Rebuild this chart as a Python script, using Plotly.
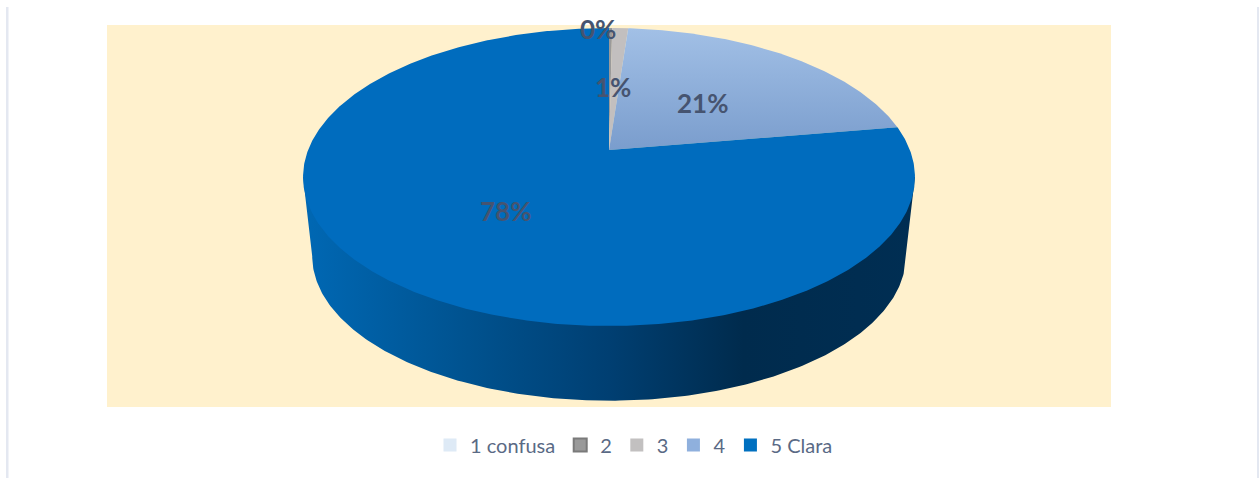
import numpy as np
import plotly.graph_objects as go

# data
categories = ["1 confusa", "2", "3", "4", "5 Clara"]
values = [0.0, 0.2, 1.0, 21.2, 77.6]
legend_colors = ["#DEEAF6", "#9A9A9A", "#C2C0C0", "#8FB0DD", "#0070C0"]
legend_borders = ["#DEEAF6", "#7A7A7A", "#C2C0C0", "#8FB0DD", "#0070C0"]
slice_colors = ["#DEEAF6", "#9A9A9A", "#C2BFBF", "#8FB0DD", "#006CBE"]

# geometry of the tilted pie (page pixels)
W, H = 1259, 478
CX, CY = 609, 150
A, B, P = 300.9, 144.1, 0.1812
WALL_CY, WALL_SCALE = 230, 0.97
TEXT = "#465470"


def project(r, theta, cy=CY, s=1.0):
    u, v = r * np.sin(theta), r * np.cos(theta)
    d = 1 + P * v
    return CX + s * A * u / d, cy - s * B * v / d


fig = go.Figure()

# side wall (front half between the outermost tangents)
t0 = np.pi - np.arccos(P)
th = np.linspace(t0, 2 * np.pi - t0, 240)
xb, yb = project(1, th, WALL_CY, WALL_SCALE)
xt0, yt0 = project(1, np.array([t0, 2 * np.pi - t0]))
fig.add_trace(go.Scatter(
    x=[xt0[0], *xb, xt0[1]], y=[yt0[0], *yb, yt0[1]],
    mode="lines", line=dict(width=0), fill="toself", showlegend=False, hoverinfo="skip",
    fillgradient=dict(type="horizontal", start=303, stop=915, colorscale=[
        [0, "#0068B4"], [0.27, "#00528F"], [0.5, "#003F72"],
        [0.72, "#002B4D"], [1, "#002E53"]]),
))

# top face
total = sum(values)
fractions = np.cumsum([0] + values) / total
for i, name in enumerate(categories):
    if values[i] <= 0:
        continue
    th = np.linspace(2 * np.pi * fractions[i], 2 * np.pi * fractions[i + 1], max(4, int(values[i] * 8)))
    x, y = project(1, th)
    kw = dict(fillcolor=slice_colors[i])
    if i == 3:
        kw = dict(fillgradient=dict(type="vertical", start=28, stop=150,
                                    colorscale=[[0, "#A2C0E6"], [1, "#7A9DCD"]]))
    fig.add_trace(go.Scatter(
        x=[CX, *x, CX], y=[CY, *y, CY], mode="lines", line=dict(width=0),
        fill="toself", showlegend=False, hoverinfo="skip", **kw))

# data labels
label_r = [0.5, 1.0, 0.5, 0.5, 0.5]
label_dx = [0, -13, -2, -2, 1]
label_dy = [0, 1, 3, 3, 2]
for i, v in enumerate(values):
    if v <= 0:
        continue
    mid = np.pi * (fractions[i] + fractions[i + 1])
    lx, ly = project(label_r[i], mid)
    fig.add_annotation(x=lx + label_dx[i], y=ly + label_dy[i], text=f"<b>{v:.0f}%</b>",
                       showarrow=False, font=dict(family="Lato", size=26, color=TEXT))

# legend
for name, c, b in zip(categories, legend_colors, legend_borders):
    fig.add_trace(go.Scatter(
        x=[None], y=[None], mode="markers", name=name,
        marker=dict(symbol="square", size=13, color=c, line=dict(color=b, width=2 if b != c else 0))))

fig.update_layout(
    width=W, height=H, margin=dict(l=0, r=0, t=0, b=0, autoexpand=False),
    paper_bgcolor="white", plot_bgcolor="white",
    xaxis=dict(range=[0, W], visible=False, fixedrange=True),
    yaxis=dict(range=[H, 0], visible=False, fixedrange=True),
    legend=dict(orientation="h", x=634 / W, xanchor="center", y=1 - 445 / H, yanchor="middle",
                font=dict(family="Lato", size=20, color="#5A6A85"), itemwidth=30,
                bgcolor="rgba(0,0,0,0)"),
    shapes=[
        dict(type="rect", layer="below", x0=107, x1=1111, y0=25, y1=407,
             fillcolor="#FFF1CD", line_width=0),
        dict(type="rect", layer="below", x0=6, x1=8.5, y0=7, y1=H,
             fillcolor="#E4E8F1", line_width=0),
        dict(type="rect", layer="below", x0=1257, x1=1259, y0=7, y1=H,
             fillcolor="#E4E8F1", line_width=0),
    ],
)
fig.write_html("out.html", config=dict(displayModeBar=False),
               post_script="document.body.style.margin='0';document.body.style.overflow='hidden';")
